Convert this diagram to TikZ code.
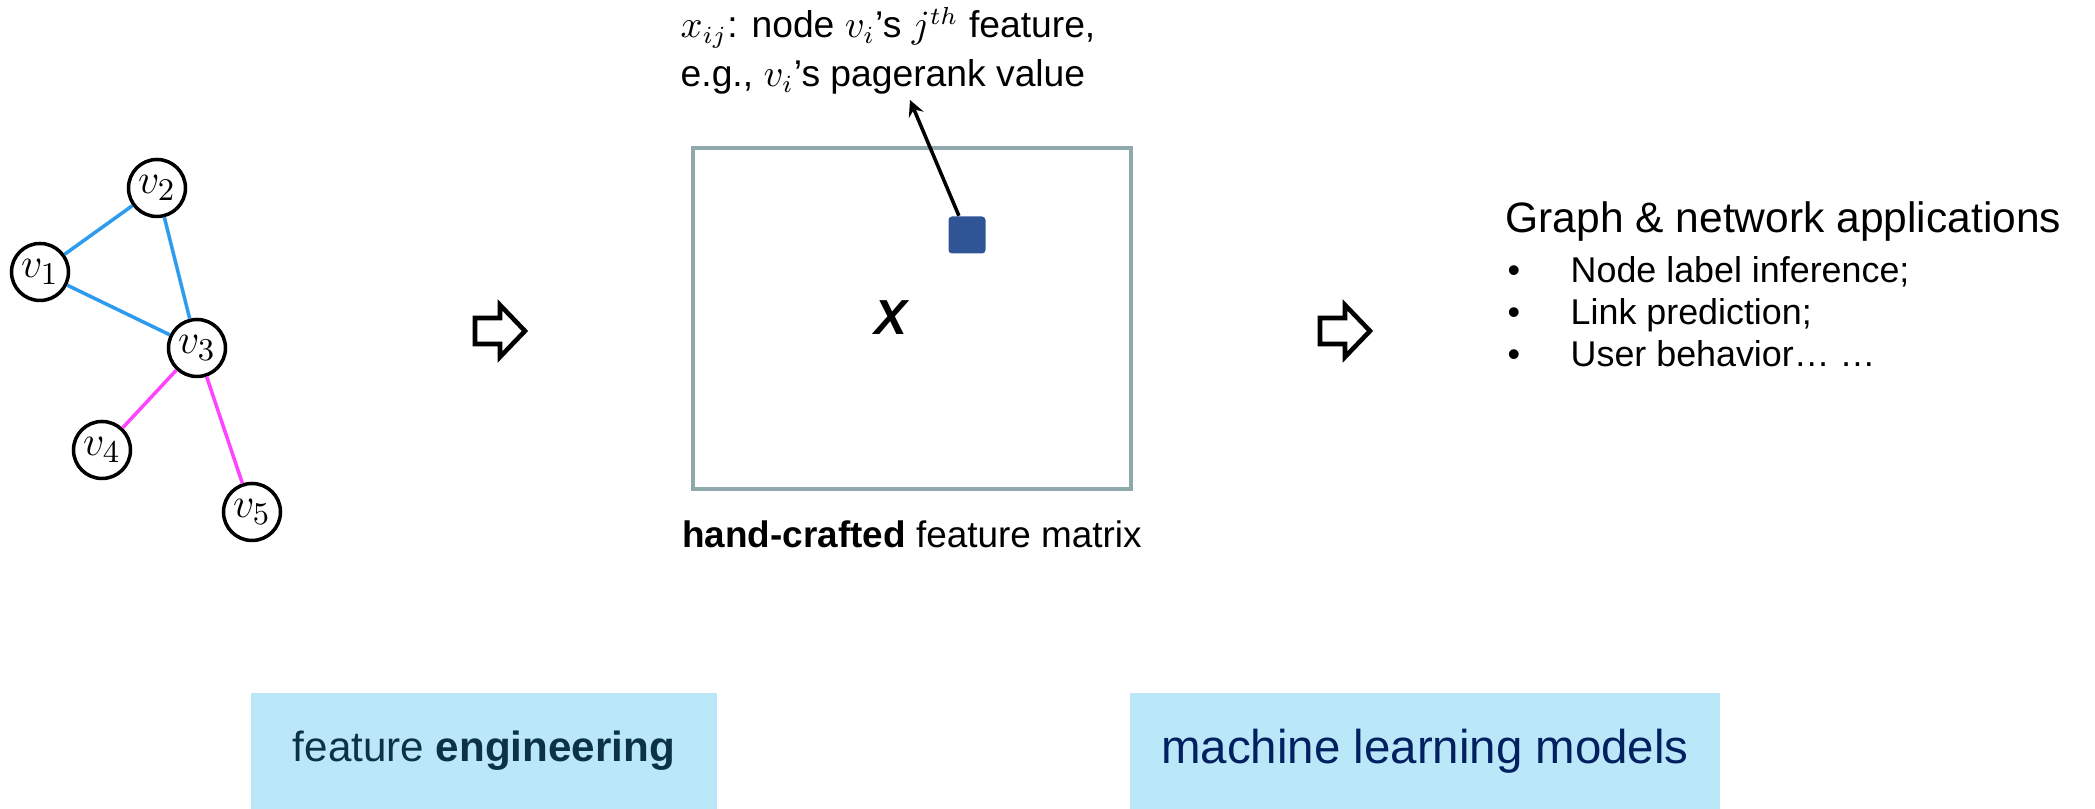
\documentclass[tikz,border=0pt]{standalone}
\usepackage[no-math]{fontspec}
\setmainfont{Liberation Sans}
\definecolor{edgeblue}{HTML}{2F9BEF}
\definecolor{edgepink}{HTML}{FF44FF}
\definecolor{matgray}{HTML}{8FA9AD}
\definecolor{cellblue}{HTML}{2F5597}
\definecolor{boxfill}{HTML}{BBE8F9}
\definecolor{fetext}{HTML}{0C3345}
\definecolor{mltext}{HTML}{002060}
\begin{document}
\begin{tikzpicture}[>=stealth,
    vnode/.style={circle, draw, line width=1pt, minimum size=0.57cm, inner sep=0pt, fill=white, font=\fontsize{13}{15}\selectfont},
    bluedge/.style={edgeblue, line width=1pt},
    pinkedge/.style={edgepink, line width=1pt},
    bluebox/.style={fill=boxfill, minimum height=1.16cm, inner sep=0pt},
    fatarrow/.style={line width=1.3pt, line join=miter}]
  \useasboundingbox (0,0) rectangle (20.95,8.09);
  % graph
  \node[vnode] (v1) at (0.40,5.37) {$v_1$};
  \node[vnode] (v2) at (1.57,6.21) {$v_2$};
  \node[vnode] (v3) at (1.97,4.61) {$v_3$};
  \node[vnode] (v4) at (1.02,3.59) {$v_4$};
  \node[vnode] (v5) at (2.52,2.97) {$v_5$};
  \draw[bluedge] (v1) -- (v2);
  \draw[bluedge] (v2) -- (v3);
  \draw[bluedge] (v1) -- (v3);
  \draw[pinkedge] (v3) -- (v4);
  \draw[pinkedge] (v3) -- (v5);
  % outline arrows
  \foreach \ax in {5.00,13.45}
    \draw[fatarrow] (\ax,4.78) ++(-0.25,0.13) -- ++(0.25,0) -- ++(0,0.13) -- ++(0.25,-0.26)
      -- ++(-0.25,-0.26) -- ++(0,0.13) -- ++(-0.25,0) -- cycle;
  % feature matrix
  \node[draw=matgray, line width=1.2pt, minimum width=4.38cm, minimum height=3.41cm] (mat) at (9.12,4.905) {};
  \node[font=\fontsize{14}{16}\selectfont\bfseries\itshape] (X) at (8.91,4.91) {X};
  \node[fill=cellblue, rounded corners=1pt, minimum size=0.37cm, inner sep=0pt] (cell) at (9.67,5.74) {};
  \coordinate (tip) at (9.10,7.09);
  \draw[->, line width=1pt] (cell) -- (tip);
  \node[anchor=base west, inner sep=0pt, font=\fontsize{10.6}{13}\selectfont] (ann1) at (6.80,7.71)
    {$x_{ij}$: node $v_i$’s $j^{th}$ feature,};
  \node[anchor=base west, inner sep=0pt, font=\fontsize{10.6}{13}\selectfont] (ann2) at (6.80,7.22)
    {e.g., $v_i$’s pagerank value};
  \node[anchor=base, font=\fontsize{10.5}{13}\selectfont] (matlabel) at (9.12,2.61)
    {\textbf{hand-crafted} feature matrix};
  % applications
  \node[anchor=base west, inner sep=0pt, font=\fontsize{12.1}{14}\selectfont] (apps) at (15.05,5.76)
    {Graph \& network applications};
  \foreach \t [count=\k] in {{Node label inference;},{Link prediction;},{User behavior… …}}
    \node[anchor=base west, inner sep=0pt, font=\fontsize{10.2}{12}\selectfont] (item\k) at (15.07,5.68-0.42*\k)
      {\makebox[0.63cm][l]{•}\t};
  % bottom boxes
  \node[bluebox, minimum width=4.66cm, text=fetext, font=\fontsize{12}{14}\selectfont] (fe) at (4.84,0.58)
    {feature \textbf{engineering}};
  \node[bluebox, minimum width=5.90cm, text=mltext, font=\fontsize{13.5}{16}\selectfont] (ml) at (14.25,0.58)
    {machine learning models};
\end{tikzpicture}
\end{document}
